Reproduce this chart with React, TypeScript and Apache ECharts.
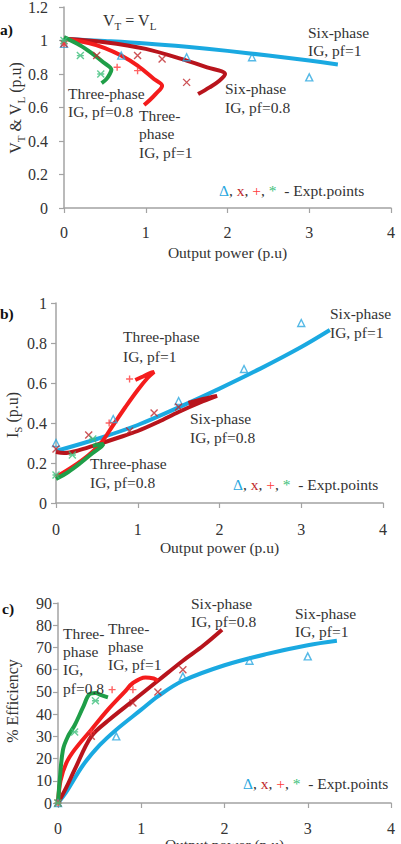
import React, { useEffect, useRef } from "react";
import * as echarts from "echarts";

// ---------- data ----------
const xTickValues = [0, 1, 2, 3, 4];

// a) terminal / load voltage vs output power
const vSixPf1 = [[0, 1.01], [0.5, 0.997], [1, 0.982], [1.5, 0.962], [2, 0.938], [2.5, 0.91], [3, 0.88], [3.35, 0.857]];
const vSixPf08 = [[0, 1.01], [0.5, 0.99], [1, 0.95], [1.5, 0.88], [1.75, 0.84], [1.97, 0.8], [1.9, 0.76], [1.78, 0.72], [1.64, 0.68]];
const vThreePf1 = [[0, 1.01], [0.3, 0.985], [0.5, 0.955], [0.7, 0.91], [0.9, 0.85], [1.1, 0.77], [1.2, 0.73], [1.12, 0.68], [1.05, 0.645], [0.98, 0.615]];
const vThreePf08 = [[0, 1.02], [0.2, 0.97], [0.35, 0.92], [0.48, 0.87], [0.58, 0.825], [0.56, 0.8], [0.52, 0.77], [0.46, 0.745]];
const vExpTri = [[0, 0.98], [0.7, 0.91], [1.5, 0.9], [2.3, 0.9], [3, 0.78]];
const vExpX = [[0, 0.98], [0.4, 0.91], [0.9, 0.91], [1.2, 0.89], [1.5, 0.75]];
const vExpPlus = [[0, 0.98], [0.65, 0.84], [0.9, 0.82]];
const vExpStar = [[0, 1.0], [0.2, 0.91], [0.45, 0.8]];

// b) stator current vs output power
const iSixPf1 = [[0, 0.26], [0.5, 0.32], [1, 0.39], [1.5, 0.478], [2, 0.572], [2.5, 0.672], [3, 0.78], [3.35, 0.865]];
const iSixPf08 = [[0, 0.255], [0.1, 0.25], [0.25, 0.26], [0.5, 0.292], [0.75, 0.325], [1, 0.36], [1.25, 0.405], [1.5, 0.455], [1.75, 0.5], [1.97, 0.535], [1.8, 0.52], [1.62, 0.5]];
const iThreePf1 = [[0, 0.13], [0.2, 0.18], [0.4, 0.24], [0.55, 0.3], [0.7, 0.39], [0.85, 0.48], [1.0, 0.565], [1.12, 0.625], [1.2, 0.655], [1.15, 0.65], [1.05, 0.63], [0.97, 0.615]];
const iThreePf08 = [[0, 0.12], [0.15, 0.155], [0.3, 0.2], [0.45, 0.25], [0.55, 0.28], [0.58, 0.295], [0.52, 0.292], [0.45, 0.285]];
const iExpTri = [[0, 0.3], [0.7, 0.42], [1.5, 0.51], [2.3, 0.67], [3, 0.9]];
const iExpX = [[0, 0.27], [0.4, 0.34], [0.9, 0.36], [1.2, 0.45], [1.5, 0.48]];
const iExpPlus = [[0.65, 0.4], [0.9, 0.62]];
const iExpStar = [[0, 0.14], [0.2, 0.24], [0.45, 0.32]];

// c) efficiency vs output power
const eSixPf1 = [[0, 0], [0.1, 5], [0.3, 17], [0.5, 26], [0.7, 33], [1, 42], [1.2, 48], [1.5, 55], [2, 62], [2.5, 67], [3, 71], [3.35, 73]];
const eSixPf08 = [[0, 0], [0.1, 7], [0.2, 15], [0.4, 30], [0.6, 37], [0.9, 46], [1.2, 55], [1.5, 64], [1.75, 71], [1.97, 78]];
const eThreePf1 = [[0, 0], [0.03, 10], [0.1, 18], [0.2, 24], [0.4, 33], [0.6, 42], [0.8, 50], [0.9, 54], [1.05, 56.5], [1.15, 56], [1.2, 55]];
const eThreePf08 = [[0, 0], [0.02, 10], [0.06, 24], [0.12, 30], [0.2, 35], [0.3, 43], [0.38, 49], [0.45, 49.5], [0.52, 48.5], [0.6, 47.5]];
const eExpTri = [[0, 0], [0.7, 30], [1.5, 57], [2.3, 64], [3, 66]];
const eExpX = [[0, 0], [0.4, 30], [0.9, 45], [1.2, 50], [1.5, 60]];
const eExpPlus = [[0, 0], [0.4, 32], [0.65, 51], [0.9, 51]];
const eExpStar = [[0, 0], [0.2, 32], [0.45, 46]];

// ---------- styles ----------
const FONT = "Liberation Serif";
const C_BLUE = "#1aa9e1";
const C_DRED = "#b8141c";
const C_RED = "#f41c1c";
const C_GREEN = "#1f9e48";
const M_BLUE = "#2aa8e0";
const M_DRED = "#c0282d";
const M_RED = "#ff3b3b";
const M_GREEN = "#3cbf7a";
const AXIS = "#a3a3a3";
const TXT = "#333";

const TRI = "path://M5,0L10,9L0,9Z";
const CROSS = "path://M0,0L10,10M10,0L0,10";
const PLUS = "path://M5,0L5,10M0,5L10,5";
const STAR = "path://M0,0L10,10M10,0L0,10M0,5L10,5";

function lineS(idx: number, data: number[][], color: string) {
  return {
    type: "line",
    xAxisIndex: idx,
    yAxisIndex: idx,
    data,
    smooth: 0.35,
    showSymbol: false,
    symbol: "none",
    lineStyle: { color, width: 4 },
    z: 2,
  };
}
function scat(idx: number, data: number[][], symbol: string, color: string, size = 7) {
  return {
    type: "scatter",
    xAxisIndex: idx,
    yAxisIndex: idx,
    data,
    symbol,
    symbolSize: size,
    itemStyle: { color: "rgba(0,0,0,0)", borderColor: color, borderWidth: 1.4 },
    z: 3,
  };
}

function xAx(idx: number, margin: number, gap: number) {
  return {
    gridIndex: idx,
    type: "value",
    min: 0,
    max: 4,
    interval: 1,
    axisLine: { show: true, lineStyle: { color: AXIS, width: 1.5 } },
    axisTick: { show: true, length: 5, lineStyle: { color: AXIS, width: 1.2 } },
    splitLine: { show: false },
    axisLabel: {
      color: TXT,
      fontSize: 16,
      fontFamily: FONT,
      margin,
      formatter: (v: number) => String(xTickValues.includes(v) ? v : ""),
    },
    name: "Output power (p.u)",
    nameLocation: "middle",
    nameGap: gap,
    nameTextStyle: { color: TXT, fontSize: 15.5, fontFamily: FONT },
  };
}
function yAx(idx: number, max: number, interval: number, margin: number) {
  return {
    gridIndex: idx,
    type: "value",
    min: 0,
    max,
    interval,
    axisLine: { show: true, lineStyle: { color: AXIS, width: 1.5 } },
    axisTick: { show: true, length: 5, lineStyle: { color: AXIS, width: 1.2 } },
    splitLine: { show: false },
    axisLabel: {
      color: TXT,
      fontSize: 16,
      fontFamily: FONT,
      margin,
      formatter: (v: number) => String(Math.round(v * 10) / 10),
    },
  };
}

function txt(x: number, y: number, text: string, lh = 18.5, extra: any = {}) {
  return {
    type: "text",
    x,
    y,
    z: 10,
    style: {
      text,
      fill: TXT,
      fontSize: 15.5,
      fontFamily: FONT,
      lineHeight: lh,
      align: "left",
      verticalAlign: "top",
      ...extra,
    },
  };
}

const subRich = {
  a: { fontSize: 16, fontFamily: FONT, lineHeight: 22, fill: TXT },
  s: { fontSize: 11, fontFamily: FONT, verticalAlign: "bottom", fill: TXT },
};

const exptRich = {
  b: { fill: M_BLUE, fontSize: 15.5, fontFamily: FONT },
  d: { fill: M_DRED, fontSize: 15.5, fontFamily: FONT },
  r: { fill: M_RED, fontSize: 15.5, fontFamily: FONT },
  g: { fill: M_GREEN, fontSize: 15.5, fontFamily: FONT },
  k: { fill: TXT, fontSize: 15.5, fontFamily: FONT },
};
const exptText = "{b|Δ}{k|, }{d|x}{k|, }{r|+}{k|, }{g|*}{k|  - Expt.points}";

function expt(x: number, cy: number) {
  return {
    type: "text",
    x,
    y: cy,
    z: 10,
    style: { text: exptText, rich: exptRich, align: "left", verticalAlign: "middle", fontFamily: FONT, fontSize: 15.5 },
  };
}

export default function App() {
  const ref = useRef<HTMLDivElement>(null);
  useEffect(() => {
    if (!ref.current) return;
    const chart = echarts.init(ref.current, undefined, { renderer: "svg" });
    const option: any = {
      animation: false,
      backgroundColor: "#fff",
      grid: [
        { left: 64, right: 10, top: 7, height: 201, outerBoundsMode: "none", containLabel: false },
        { left: 56, right: 18, top: 303, height: 200, outerBoundsMode: "none", containLabel: false },
        { left: 58, right: 10, top: 603, height: 200, outerBoundsMode: "none", containLabel: false },
      ],
      xAxis: [xAx(0, 16, 36), xAx(1, 18, 36), xAx(2, 17, 30)],
      yAxis: [yAx(0, 1.2, 0.2, 16), yAx(1, 1, 0.2, 9), yAx(2, 90, 10, 6)],
      series: [
        lineS(0, vSixPf1, C_BLUE),
        lineS(0, vSixPf08, C_DRED),
        lineS(0, vThreePf1, C_RED),
        lineS(0, vThreePf08, C_GREEN),
        scat(0, vExpTri, TRI, M_BLUE),
        scat(0, vExpX, CROSS, M_DRED),
        scat(0, vExpPlus, PLUS, M_RED),
        scat(0, vExpStar, STAR, M_GREEN),

        lineS(1, iSixPf1, C_BLUE),
        lineS(1, iSixPf08, C_DRED),
        lineS(1, iThreePf1, C_RED),
        lineS(1, iThreePf08, C_GREEN),
        scat(1, iExpTri, TRI, M_BLUE),
        scat(1, iExpX, CROSS, M_DRED),
        scat(1, iExpPlus, PLUS, M_RED),
        scat(1, iExpStar, STAR, M_GREEN),

        lineS(2, eSixPf1, C_BLUE),
        lineS(2, eSixPf08, C_DRED),
        lineS(2, eThreePf1, C_RED),
        lineS(2, eThreePf08, C_GREEN),
        scat(2, eExpTri, TRI, M_BLUE),
        scat(2, eExpX, CROSS, M_DRED),
        scat(2, eExpPlus, PLUS, M_RED),
        scat(2, eExpStar, STAR, M_GREEN),
      ],
      graphic: [
        // panel letters
        txt(0, 21, "a)", 16, { fontWeight: "bold", fill: "#111" }),
        txt(0, 305, "b)", 16, { fontWeight: "bold", fill: "#111" }),
        txt(2, 600, "c)", 16, { fontWeight: "bold", fill: "#111" }),
        // y-axis names
        {
          type: "text", x: 15, y: 108, rotation: Math.PI / 2, z: 10,
          style: { text: "{a|V}{s|T}{a| & V}{s|L}{a| (p.u)}", rich: subRich, align: "center", verticalAlign: "middle" },
        },
        {
          type: "text", x: 12, y: 415, rotation: Math.PI / 2, z: 10,
          style: { text: "{a|I}{s|S}{a| (p.u)}", rich: subRich, align: "center", verticalAlign: "middle" },
        },
        {
          type: "text", x: 12, y: 701, rotation: Math.PI / 2, z: 10,
          style: { text: "% Efficiency", fill: TXT, fontSize: 16, fontFamily: FONT, align: "center", verticalAlign: "middle" },
        },
        // panel a annotations
        {
          type: "text", x: 103, y: 20, z: 10,
          style: { text: "{a|V}{s|T}{a| = V}{s|L}", rich: subRich, align: "left", verticalAlign: "middle" },
        },
        txt(308, 23, "Six-phase\nIG, pf=1", 18),
        txt(225, 79, "Six-phase\nIG, pf=0.8", 19),
        txt(68, 84, "Three-phase\nIG, pf=0.8", 18.5),
        txt(139, 106, "Three-\nphase\nIG, pf=1", 18.5),
        expt(219, 190),
        // panel b annotations
        txt(330, 304, "Six-phase\nIG, pf=1", 19),
        txt(123, 327, "Three-phase\nIG, pf=1", 19.5),
        txt(190, 409, "Six-phase\nIG, pf=0.8", 19),
        txt(90, 454, "Three-phase\nIG, pf=0.8", 19),
        expt(233, 484),
        // panel c annotations
        txt(63, 624, "Three-\nphase\nIG,\npf=0.8", 18.3),
        txt(108, 619, "Three-\nphase\nIG, pf=1", 18),
        txt(191, 594, "Six-phase\nIG, pf=0.8", 18.5),
        txt(295, 604, "Six-phase\nIG, pf=1", 18.5),
        expt(243, 783),
      ],
    };
    chart.setOption(option);
    return () => chart.dispose();
  }, []);
  return (
    <div
      ref={ref}
      style={{ position: "absolute", left: 0, top: 0, width: 401, height: 844, background: "#fff" }}
    />
  );
}
